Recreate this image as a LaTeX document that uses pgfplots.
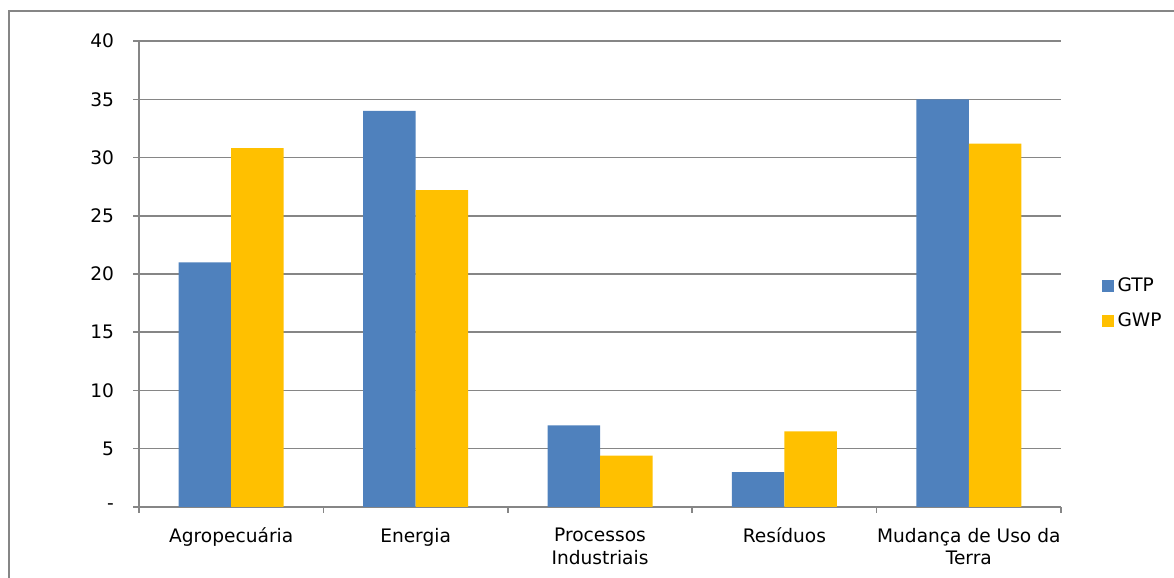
\documentclass[border=0pt]{standalone}
\usepackage{pgfplots}
\pgfplotsset{compat=1.18}
\usepackage{fontspec}
\setmainfont{DejaVu Sans}

\definecolor{gtpblue}{HTML}{4F81BD}
\definecolor{gwpgold}{HTML}{FFC000}
\definecolor{gridgray}{HTML}{868686}

\begin{document}
\begin{tikzpicture}
\useasboundingbox (0pt,0pt) rectangle (587pt,289pt);
% outer frame (clipped at right and bottom)
\draw[gridgray, line width=0.6pt] (4.5pt,-5pt) |- (600pt,283.5pt);
\begin{axis}[
  at={(69.5pt,35.5pt)}, anchor=south west,
  scale only axis,
  width=461pt, height=233pt,
  font=\fontsize{9.3}{11.3}\selectfont,
  /pgf/number format/assume math mode=true,
  xmin=-0.5, xmax=4.5,
  ymin=0, ymax=40,
  ytick={0,5,...,40},
  yticklabels={-,5,10,15,20,25,30,35,40},
  xtick={0,1,2,3,4},
  xticklabels={Agropecuária,Energia,{Processos\\Industriais},Resíduos,{Mudança de Uso da\\Terra}},
  xticklabel style={align=center, text depth=0pt, yshift=-4pt},
  yticklabel style={xshift=-6pt},
  major x tick style={draw=none},
  minor xtick={-0.5,0.5,1.5,2.5,3.5,4.5},
  tick align=outside,
  major tick length=3pt,
  minor tick length=3pt,
  axis x line*=bottom,
  axis y line*=left,
  axis line style={gridgray, line width=0.75pt},
  every tick/.style={gridgray, line width=0.75pt},
  ymajorgrids,
  major grid style={gridgray, line width=0.75pt},
  ybar,
  bar width=26.25pt,
  legend style={draw=none, at={(1.037,0.436)}, anchor=west,
    font=\fontsize{9.3}{11.3}\selectfont, row sep=5pt},
  legend cell align=left,
  legend image code/.code={\fill[#1] (0pt,-3pt) rectangle (6pt,3pt);},
]
\addplot[fill=gtpblue, draw=none, bar shift=-13.125pt] coordinates {
  (0,21.0) (1,34.0) (2,7.0) (3,3.0) (4,35.0)
};
\addplot[fill=gwpgold, draw=none, bar shift=13.125pt] coordinates {
  (0,30.8) (1,27.2) (2,4.4) (3,6.5) (4,31.2)
};
\legend{GTP,GWP}
\end{axis}
\end{tikzpicture}
\end{document}
